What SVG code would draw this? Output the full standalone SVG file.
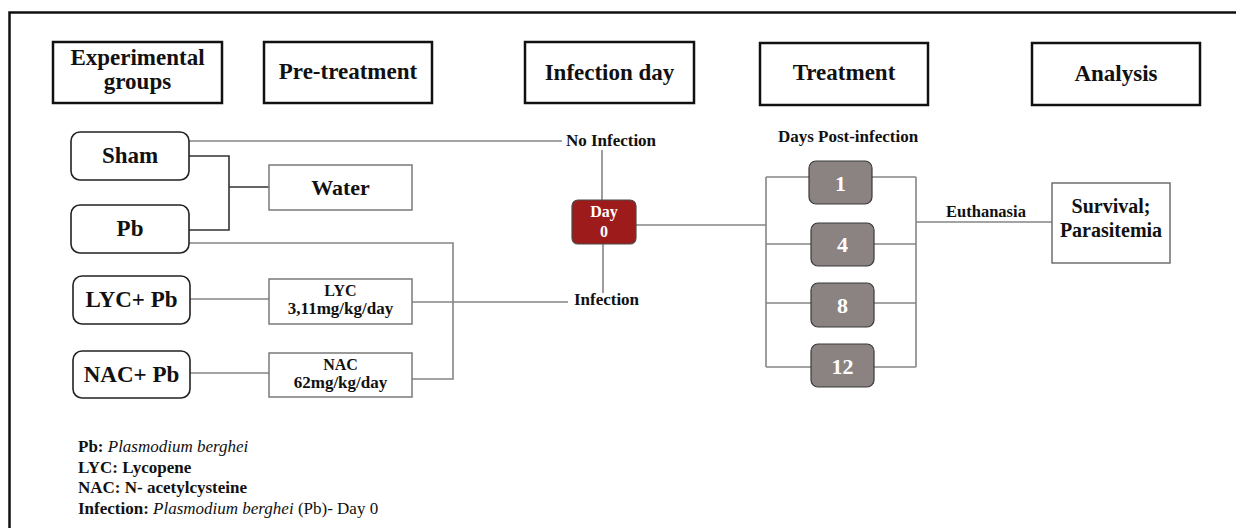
<svg xmlns="http://www.w3.org/2000/svg" width="1236" height="528" viewBox="0 0 1236 528" font-family="'Liberation Serif', 'Times New Roman', 'DejaVu Serif', serif">
<style>
text{font-family:'Liberation Serif','Times New Roman','DejaVu Serif',serif;font-weight:bold;fill:#111}
.hdr{fill:#fff;stroke:#111;stroke-width:2.5}
.ht{font-size:23px}
.grp{fill:#fff;stroke:#222;stroke-width:1.6}
.gt{font-size:23px}
.pre{fill:#fff;stroke:#7a7a7a;stroke-width:1.5}
.lbl{font-size:17px}
.day{fill:#8b8382;stroke:#3a3a3a;stroke-width:1.2}
.dt{font-size:22px;fill:#fff}
.con{fill:none;stroke:#858585;stroke-width:1.6}
.dark{stroke:#333}
.it{font-style:italic;font-weight:normal}
.rg{font-weight:normal}
</style>
<rect width="1236" height="528" fill="#fff"/>
<path d="M9.5,528 V12.5 H1236" fill="none" stroke="#111" stroke-width="2.5"/>

<g id="hdr-groups"><rect class="hdr" x="53" y="42" width="169" height="61"/><text class="ht" x="137.5" y="65" text-anchor="middle">Experimental</text><text class="ht" x="137.5" y="89" text-anchor="middle">groups</text></g>
<g id="hdr-pre"><rect class="hdr" x="264" y="42" width="168" height="61"/><text class="ht" x="348" y="79" text-anchor="middle">Pre-treatment</text></g>
<g id="hdr-inf"><rect class="hdr" x="525" y="42" width="169" height="61"/><text class="ht" x="609.5" y="80" text-anchor="middle">Infection day</text></g>
<g id="hdr-treat"><rect class="hdr" x="760" y="43" width="168" height="62"/><text class="ht" x="844" y="80" text-anchor="middle">Treatment</text></g>
<g id="hdr-analysis"><rect class="hdr" x="1032" y="43" width="168" height="62"/><text class="ht" x="1116" y="81" text-anchor="middle">Analysis</text></g>

<g id="connectors">
<path class="con" d="M189,141 H562"/>
<path class="con dark" d="M189,156 H229 V230 H189 M229,187 H269"/>
<path class="con" d="M189,243 H453 V379 H412"/>
<path class="con" d="M190,299 H269"/>
<path class="con" d="M412,302 H568"/>
<path class="con" d="M190,373 H269"/>
<path class="con" d="M602,150 V200"/>
<path class="con" d="M603,244 V293"/>
<path class="con" d="M636,225 H766"/>
<path class="con" d="M766,177 V367 M766,177 H809 M766,244 H811 M766,303 H811 M766,367 H811"/>
<path class="con" d="M916,177 V367 M872,177 H916 M874,244 H916 M874,303 H916 M874,367 H916"/>
<path class="con" d="M916,222 H1053"/>
</g>

<g id="sham"><rect class="grp" x="71" y="132" width="118" height="48" rx="9"/><text class="gt" x="130" y="163" text-anchor="middle">Sham</text></g>
<g id="pb"><rect class="grp" x="71" y="205" width="118" height="48" rx="9"/><text class="gt" x="130" y="236" text-anchor="middle">Pb</text></g>
<g id="lycpb"><rect class="grp" x="73" y="276" width="117" height="48" rx="9"/><text class="gt" x="131.5" y="307" text-anchor="middle">LYC+ Pb</text></g>
<g id="nacpb"><rect class="grp" x="73" y="351" width="117" height="47" rx="9"/><text class="gt" x="131.5" y="382" text-anchor="middle">NAC+ Pb</text></g>

<g id="water"><rect class="pre" x="269" y="165" width="143" height="45"/><text x="340.5" y="195" text-anchor="middle" style="font-size:22px">Water</text></g>
<g id="lyc"><rect class="pre" x="269" y="279" width="143" height="45"/><text x="340.5" y="296" text-anchor="middle" style="font-size:16px">LYC</text><text x="340.5" y="314" text-anchor="middle" style="font-size:17px">3,11mg/kg/day</text></g>
<g id="nac"><rect class="pre" x="269" y="353" width="143" height="44"/><text x="340.5" y="370" text-anchor="middle" style="font-size:16px">NAC</text><text x="340.5" y="388" text-anchor="middle" style="font-size:17px">62mg/kg/day</text></g>

<g id="noinf"><text class="lbl" x="611" y="146" text-anchor="middle">No Infection</text></g>
<g id="day0"><rect x="572" y="200" width="64" height="44" rx="6" fill="#9e1b1b" stroke="#4a4a4a" stroke-width="1.2"/><text x="604" y="217" text-anchor="middle" style="font-size:16px;fill:#fff">Day</text><text x="604" y="237" text-anchor="middle" style="font-size:16px;fill:#fff">0</text></g>
<g id="inf"><text class="lbl" x="606.5" y="305" text-anchor="middle">Infection</text></g>

<g id="dpi"><text class="lbl" x="848" y="142" text-anchor="middle">Days Post-infection</text></g>
<g id="d1"><rect class="day" x="809" y="161" width="63" height="43" rx="7"/><text class="dt" x="840.5" y="191" text-anchor="middle">1</text></g>
<g id="d4"><rect class="day" x="811" y="223" width="63" height="43" rx="7"/><text class="dt" x="842.5" y="252" text-anchor="middle">4</text></g>
<g id="d8"><rect class="day" x="811" y="283" width="63" height="44" rx="7"/><text class="dt" x="842.5" y="313" text-anchor="middle">8</text></g>
<g id="d12"><rect class="day" x="811" y="344" width="63" height="43" rx="7"/><text class="dt" x="842.5" y="374" text-anchor="middle">12</text></g>

<g id="euth"><text x="986" y="217" text-anchor="middle" style="font-size:16.5px">Euthanasia</text></g>
<g id="survival"><rect x="1052" y="183" width="118" height="80" fill="#fff" stroke="#6f6f6f" stroke-width="1.5"/><text x="1111" y="213" text-anchor="middle" style="font-size:20px">Survival;</text><text x="1111" y="237" text-anchor="middle" style="font-size:20px">Parasitemia</text></g>

<g id="legend">
<text x="78" y="452" style="font-size:17px">Pb: <tspan class="it">Plasmodium berghei</tspan></text>
<text x="78" y="473" style="font-size:17px">LYC: Lycopene</text>
<text x="78" y="493" style="font-size:17px">NAC: N- acetylcysteine</text>
<text x="78" y="514" style="font-size:17px">Infection: <tspan class="it">Plasmodium berghei</tspan><tspan class="rg"> (Pb)- Day 0</tspan></text>
</g>
</svg>
